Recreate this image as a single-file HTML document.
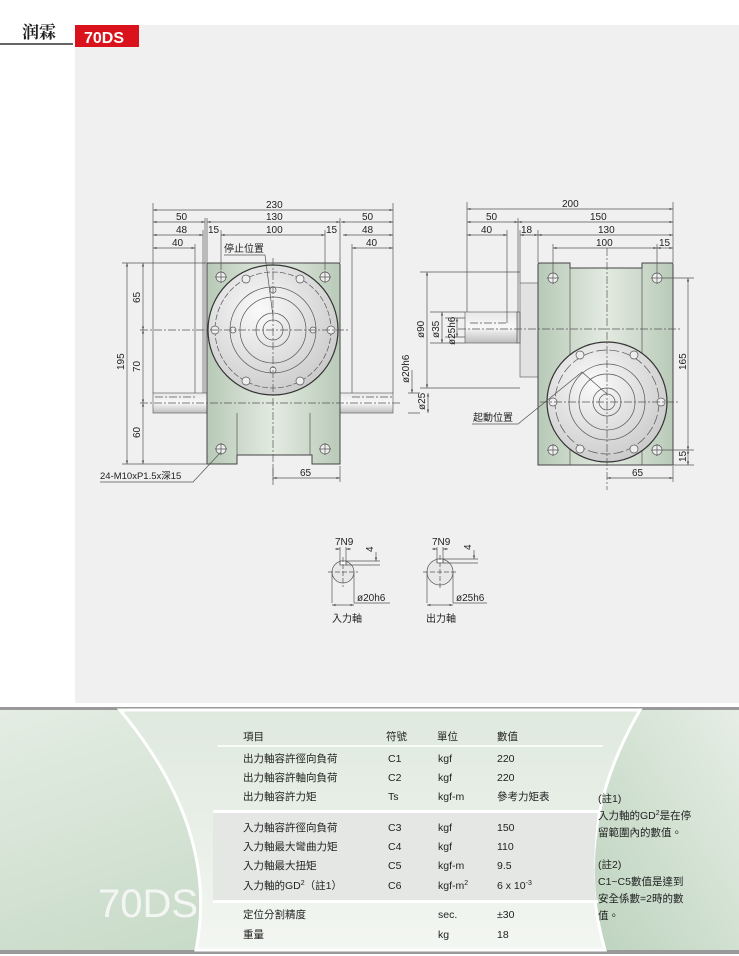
<!DOCTYPE html>
<html><head><meta charset="utf-8"><style>
html,body{margin:0;padding:0;background:#fff;}
svg{display:block;font-family:"Liberation Sans","Noto Sans CJK TC",sans-serif;}
</style></head><body>
<svg width="739" height="956" viewBox="0 0 739 956" xmlns="http://www.w3.org/2000/svg">
<defs>
<linearGradient id="body" x1="0" y1="0" x2="1" y2="0"><stop offset="0" stop-color="#b7c9b6"/><stop offset="0.5" stop-color="#e3ebe1"/><stop offset="1" stop-color="#b9cab8"/></linearGradient>
<radialGradient id="disc" cx="0.4" cy="0.35" r="0.7"><stop offset="0" stop-color="#fafafa"/><stop offset="1" stop-color="#c9c9c9"/></radialGradient>
<linearGradient id="shaft" x1="0" y1="0" x2="0" y2="1"><stop offset="0" stop-color="#e8e8e8"/><stop offset="0.5" stop-color="#f8f8f8"/><stop offset="1" stop-color="#bdbdbd"/></linearGradient>
<linearGradient id="grn" x1="0" y1="0" x2="1" y2="1"><stop offset="0" stop-color="#e4ede3"/><stop offset="1" stop-color="#b8d0b9"/></linearGradient>
<linearGradient id="grn2" x1="1" y1="0" x2="0" y2="1"><stop offset="0" stop-color="#e6eee5"/><stop offset="1" stop-color="#bdd3be"/></linearGradient>
<linearGradient id="mid" x1="0" y1="0" x2="0" y2="1"><stop offset="0" stop-color="#dfe9de"/><stop offset="1" stop-color="#f3f6f2"/></linearGradient>
<marker id="a" viewBox="0 0 6 6" refX="6" refY="3" markerWidth="5" markerHeight="5" orient="auto-start-reverse"><path d="M0,1L6,3L0,5z" fill="#555"/></marker>
</defs>
<!-- header -->
<line x1="0" y1="44" x2="73" y2="44" stroke="#666" stroke-width="2"/>
<text x="22" y="38" font-size="17" font-family="'Noto Serif CJK SC',serif" fill="#222" font-weight="bold">润霖</text>
<rect x="75" y="25" width="664" height="678" fill="#f0f0f0"/>
<rect x="75" y="25" width="64" height="22" fill="#d9121c"/>
<text x="84" y="43" font-size="16" fill="#fff" font-weight="bold">70DS</text>

<g stroke="#555" stroke-width="0.7" fill="none" font-size="10">
<!-- LEFT VIEW -->
<rect x="153" y="393" width="54" height="20" fill="url(#shaft)" stroke="#666"/>
<rect x="340" y="393" width="53" height="20" fill="url(#shaft)" stroke="#666"/>
<path d="M209,263H338Q340,263 340,265V464H312V455H237V464H207V265Q207,263 209,263Z" fill="url(#body)" stroke="#444" stroke-width="1"/>
<circle cx="273" cy="330" r="65" fill="url(#disc)" stroke="#333" stroke-width="1.2"/>
<circle cx="273" cy="330" r="58" stroke-dasharray="6 2"/>
<circle cx="273" cy="330" r="43"/><circle cx="273" cy="330" r="33"/>
<circle cx="273" cy="330" r="17"/><circle cx="273" cy="330" r="10"/>
<g fill="#eee">
<circle cx="246" cy="279" r="4"/><circle cx="300" cy="279" r="4"/><circle cx="246" cy="381" r="4"/><circle cx="300" cy="381" r="4"/>
<circle cx="215" cy="330" r="4"/><circle cx="331" cy="330" r="4"/>
<circle cx="273" cy="290" r="3"/><circle cx="273" cy="370" r="3"/><circle cx="233" cy="330" r="3"/><circle cx="313" cy="330" r="3"/>
<circle cx="221" cy="277" r="5"/><circle cx="325" cy="277" r="5"/><circle cx="221" cy="449" r="5"/><circle cx="325" cy="449" r="5"/>
</g>
<path d="M215,277h12M221,271v12M319,277h12M325,271v12M215,449h12M221,443v12M319,449h12M325,443v12"/>
<path d="M273,258V485M140,330H348M140,403H400M155,397H195M352,397H393" stroke-dasharray="8 2 2 2"/>
<path d="M237,413V455M310,413V455"/>
<!-- left dims -->
<path d="M153,203V393M393,203V393M207,218V263M340,218V263M205,218V393M203,230V393M195,244V393M352,244V393M221,230V270M325,230V270"/>
<line x1="153" y1="210" x2="393" y2="210" marker-start="url(#a)" marker-end="url(#a)"/>
<line x1="153" y1="222" x2="205" y2="222" marker-start="url(#a)" marker-end="url(#a)"/>
<line x1="207" y1="222" x2="340" y2="222" marker-start="url(#a)" marker-end="url(#a)"/>
<line x1="341" y1="222" x2="393" y2="222" marker-start="url(#a)" marker-end="url(#a)"/>
<line x1="153" y1="235" x2="203" y2="235" marker-start="url(#a)" marker-end="url(#a)"/>
<line x1="221" y1="235" x2="325" y2="235" marker-start="url(#a)" marker-end="url(#a)"/>
<line x1="343" y1="235" x2="393" y2="235" marker-start="url(#a)" marker-end="url(#a)"/>
<line x1="153" y1="248" x2="195" y2="248" marker-start="url(#a)" marker-end="url(#a)"/>
<line x1="352" y1="248" x2="393" y2="248" marker-start="url(#a)" marker-end="url(#a)"/>
<path d="M122,263H207M122,464H207"/>
<line x1="127" y1="263" x2="127" y2="464" marker-start="url(#a)" marker-end="url(#a)"/>
<line x1="143" y1="263" x2="143" y2="330" marker-start="url(#a)" marker-end="url(#a)"/>
<line x1="143" y1="330" x2="143" y2="403" marker-start="url(#a)" marker-end="url(#a)"/>
<line x1="143" y1="403" x2="143" y2="464" marker-start="url(#a)" marker-end="url(#a)"/>
<line x1="273" y1="478" x2="340" y2="478" marker-start="url(#a)" marker-end="url(#a)"/>
<path d="M340,466V482M273,466V482"/>
<path d="M100,482H193L221,452"/>
<path d="M224,255H265L273,316"/>
<!-- middle dims -->
<path d="M408,393H420M408,413H420M420,272H520M420,388H520M430,312H465M430,343H465M445,318H465M445,337H465"/>
<line x1="412" y1="370" x2="412" y2="393" marker-end="url(#a)"/>
<line x1="428" y1="393" x2="428" y2="413" marker-start="url(#a)" marker-end="url(#a)"/>
<line x1="427" y1="272" x2="427" y2="388" marker-start="url(#a)" marker-end="url(#a)"/>
<line x1="442" y1="312" x2="442" y2="343" marker-start="url(#a)" marker-end="url(#a)"/>
<line x1="457" y1="318" x2="457" y2="337" marker-start="url(#a)" marker-end="url(#a)"/>

<!-- RIGHT VIEW -->
<rect x="520" y="283" width="18" height="94" fill="#e2e2e2" stroke="#666"/>
<rect x="465" y="312" width="53" height="31" fill="url(#shaft)" stroke="#666"/>
<rect x="517" y="312" width="3" height="31" fill="#ccc"/>
<path d="M540,263H570V268H642V263H671Q673,263 673,265V465H538V265Q538,263 540,263Z" fill="url(#body)" stroke="#444" stroke-width="1"/>
<path d="M570,268V465M642,268V465"/>
<circle cx="607" cy="402" r="60" fill="url(#disc)" stroke="#333" stroke-width="1.2"/>
<circle cx="607" cy="402" r="52" stroke-dasharray="10 3"/>
<circle cx="607" cy="402" r="38"/><circle cx="607" cy="402" r="28"/>
<circle cx="607" cy="402" r="14"/><circle cx="607" cy="402" r="8"/>
<g fill="#eee">
<circle cx="553" cy="278" r="5"/><circle cx="657" cy="278" r="5"/><circle cx="553" cy="450" r="5"/><circle cx="657" cy="450" r="5"/>
<circle cx="553" cy="402" r="4"/><circle cx="661" cy="402" r="4"/><circle cx="580" cy="355" r="4"/><circle cx="634" cy="355" r="4"/><circle cx="580" cy="449" r="4"/><circle cx="634" cy="449" r="4"/>
</g>
<path d="M547,278h12M553,272v12M651,278h12M657,272v12M547,450h12M553,444v12M651,450h12M657,444v12"/>
<path d="M607,248V490M458,329H680M540,402H680M470,323H507" stroke-dasharray="8 2 2 2"/>
<path d="M467,202V312M673,202V263M518,218V312M520,230V283M538,230V263M507,230V323M553,244V272M657,244V272M663,278H694M663,450H694M673,465H694"/>
<line x1="467" y1="209" x2="673" y2="209" marker-start="url(#a)" marker-end="url(#a)"/>
<line x1="467" y1="222" x2="518" y2="222" marker-start="url(#a)" marker-end="url(#a)"/>
<line x1="518" y1="222" x2="673" y2="222" marker-start="url(#a)" marker-end="url(#a)"/>
<line x1="467" y1="235" x2="507" y2="235" marker-start="url(#a)" marker-end="url(#a)"/>
<line x1="520" y1="235" x2="538" y2="235" marker-start="url(#a)" marker-end="url(#a)"/>
<line x1="538" y1="235" x2="673" y2="235" marker-start="url(#a)" marker-end="url(#a)"/>
<line x1="553" y1="248" x2="657" y2="248" marker-start="url(#a)" marker-end="url(#a)"/>
<line x1="657" y1="248" x2="673" y2="248" marker-start="url(#a)" marker-end="url(#a)"/>
<line x1="688" y1="278" x2="688" y2="450" marker-start="url(#a)" marker-end="url(#a)"/>
<line x1="688" y1="450" x2="688" y2="465" marker-start="url(#a)" marker-end="url(#a)"/>
<line x1="607" y1="478" x2="673" y2="478" marker-start="url(#a)" marker-end="url(#a)"/>
<path d="M673,466V482M472,424H518L582,372L607,394"/>

<!-- key details -->
<circle cx="343" cy="572" r="11" fill="#e8e8e8"/>
<circle cx="440" cy="572" r="13" fill="#e8e8e8"/>
<rect x="340" y="561" width="6" height="4" fill="#fff"/><rect x="437" y="559" width="6" height="4" fill="#fff"/>
<path d="M328,572H358M343,557V587M423,572H457M440,555V589" stroke-dasharray="5 2"/>
<path d="M340,547V565M346,547V565M437,547V563M443,547V563M346,561H380M346,565H380M443,559H478M443,563H478M332,572V603M354,572V603M427,572V603M453,572V603M354,603H390M453,603H487"/>
<line x1="335" y1="549" x2="340" y2="549" marker-end="url(#a)"/><line x1="351" y1="549" x2="346" y2="549" marker-end="url(#a)"/>
<line x1="432" y1="549" x2="437" y2="549" marker-end="url(#a)"/><line x1="448" y1="549" x2="443" y2="549" marker-end="url(#a)"/>
<line x1="376" y1="552" x2="376" y2="561" marker-end="url(#a)"/><line x1="474" y1="550" x2="474" y2="559" marker-end="url(#a)"/>
<line x1="332" y1="605" x2="354" y2="605" marker-start="url(#a)" marker-end="url(#a)"/>
<line x1="427" y1="605" x2="453" y2="605" marker-start="url(#a)" marker-end="url(#a)"/>
</g>
<g font-size="10" fill="#222">
<text x="266" y="208">230</text>
<text x="176" y="220">50</text><text x="266" y="220">130</text><text x="362" y="220">50</text>
<text x="176" y="233">48</text><text x="208" y="233">15</text><text x="266" y="233">100</text><text x="326" y="233">15</text><text x="362" y="233">48</text>
<text x="172" y="246">40</text><text x="366" y="246">40</text>
<text x="224" y="252">停止位置</text>
<text x="300" y="476">65</text>
<text x="100" y="479" font-size="9.5">24-M10xP1.5x深15</text>
<text transform="translate(124,370) rotate(-90)">195</text>
<text transform="translate(140,303) rotate(-90)">65</text>
<text transform="translate(140,372) rotate(-90)">70</text>
<text transform="translate(140,438) rotate(-90)">60</text>
<text transform="translate(409,383) rotate(-90)">ø20h6</text>
<text transform="translate(425,410) rotate(-90)">ø25</text>
<text transform="translate(424,338) rotate(-90)">ø90</text>
<text transform="translate(439,338) rotate(-90)">ø35</text>
<text transform="translate(455,345) rotate(-90)">ø25h6</text>
<text x="562" y="207">200</text>
<text x="486" y="220">50</text><text x="590" y="220">150</text>
<text x="481" y="233">40</text><text x="521" y="233">18</text><text x="598" y="233">130</text>
<text x="596" y="246">100</text><text x="659" y="246">15</text>
<text transform="translate(686,370) rotate(-90)">165</text>
<text transform="translate(686,462) rotate(-90)">15</text>
<text x="632" y="476">65</text>
<text x="473" y="421">起動位置</text>
<text x="335" y="545">7N9</text><text x="432" y="545">7N9</text>
<text transform="translate(373,552) rotate(-90)">4</text><text transform="translate(471,550) rotate(-90)">4</text>
<text x="357" y="601">ø20h6</text><text x="456" y="601">ø25h6</text>
<text x="332" y="622">入力軸</text><text x="426" y="622">出力軸</text>
</g>

<!-- TABLE -->
<rect x="0" y="707" width="739" height="3" fill="#999"/>
<rect x="0" y="950" width="739" height="4" fill="#999"/>
<rect x="0" y="710" width="739" height="240" fill="url(#grn)"/>
<path d="M628,710H739V950H600Q570,830 628,710Z" fill="url(#grn2)"/>
<path d="M120,710H640Q570,830 605,950H196Q220,830 120,710Z" fill="url(#mid)" stroke="#fff" stroke-width="3"/>
<rect x="218" y="745" width="385" height="2" fill="#fff" opacity="0.8"/>
<path d="M213,812H598Q592,856 596,900H213Z" fill="#e5e7e5"/>
<rect x="213" y="810" width="385" height="3" fill="#fff"/>
<rect x="213" y="900" width="385" height="3" fill="#fff"/>
<text x="98" y="917" font-size="40" fill="#f4f6f3" font-family="'Liberation Sans',sans-serif">70DS</text>
<g font-size="10.5" fill="#222">
<text x="243" y="740">項目</text><text x="386" y="740">符號</text><text x="437" y="740">單位</text><text x="497" y="740">數值</text>
<text x="243" y="762">出力軸容許徑向負荷</text><text x="388" y="762">C1</text><text x="438" y="762">kgf</text><text x="497" y="762">220</text>
<text x="243" y="781">出力軸容許軸向負荷</text><text x="388" y="781">C2</text><text x="438" y="781">kgf</text><text x="497" y="781">220</text>
<text x="243" y="800">出力軸容許力矩</text><text x="388" y="800">Ts</text><text x="438" y="800">kgf-m</text><text x="497" y="800">參考力矩表</text>
<text x="243" y="831">入力軸容許徑向負荷</text><text x="388" y="831">C3</text><text x="438" y="831">kgf</text><text x="497" y="831">150</text>
<text x="243" y="850">入力軸最大彎曲力矩</text><text x="388" y="850">C4</text><text x="438" y="850">kgf</text><text x="497" y="850">110</text>
<text x="243" y="869">入力軸最大扭矩</text><text x="388" y="869">C5</text><text x="438" y="869">kgf-m</text><text x="497" y="869">9.5</text>
<text x="243" y="889">入力軸的GD<tspan font-size="7" dy="-4">2</tspan><tspan dy="4">（註1）</tspan></text><text x="388" y="889">C6</text><text x="438" y="889">kgf-m<tspan font-size="7" dy="-4">2</tspan></text><text x="497" y="889">6 x 10<tspan font-size="7" dy="-4">-3</tspan></text>
<text x="243" y="918">定位分割精度</text><text x="438" y="918">sec.</text><text x="497" y="918">±30</text>
<text x="243" y="938">重量</text><text x="438" y="938">kg</text><text x="497" y="938">18</text>
<text x="598" y="802">(註1)</text>
<text x="598" y="819">入力軸的GD<tspan font-size="7" dy="-4">2</tspan><tspan dy="4">是在停</tspan></text>
<text x="598" y="836">留範圍內的數值。</text>
<text x="598" y="868">(註2)</text>
<text x="598" y="885">C1~C5數值是達到</text>
<text x="598" y="902">安全係數=2時的數</text>
<text x="598" y="919">值。</text>
</g>
</svg>
</body></html>
